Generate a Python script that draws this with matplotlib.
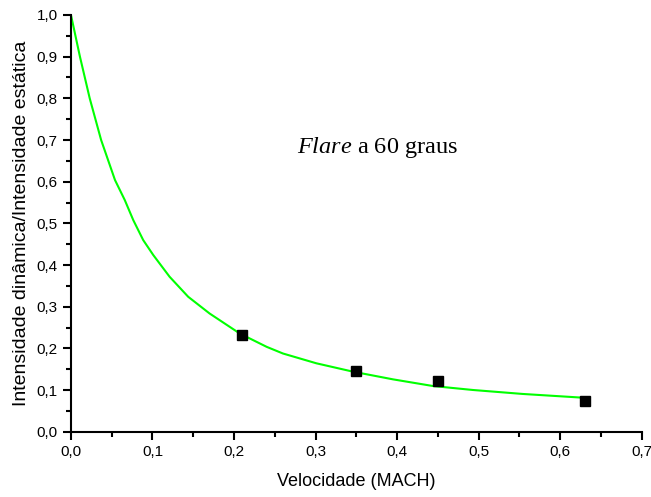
import matplotlib
matplotlib.use("Agg")
from matplotlib import pyplot as plt
from matplotlib.ticker import MultipleLocator, FuncFormatter

# pontos medidos (quadrados pretos)
mach = [0.21, 0.35, 0.45, 0.63]
razao = [0.232, 0.146, 0.121, 0.075]

# curva de ajuste
curva_x = [0.0, 0.011, 0.023, 0.037, 0.054, 0.066, 0.0764, 0.0886, 0.101, 0.121,
           0.1438, 0.170, 0.207, 0.240, 0.260, 0.301, 0.346, 0.395, 0.444, 0.493,
           0.554, 0.628]
curva_y = [1.0, 0.9, 0.8, 0.7, 0.604, 0.556, 0.508, 0.460, 0.424, 0.372,
           0.324, 0.284, 0.236, 0.204, 0.188, 0.1645, 0.1444, 0.126, 0.110, 0.1005,
           0.091, 0.082]

plt.rcParams["font.family"] = ["Liberation Sans", "DejaVu Sans"]
plt.rcParams["mathtext.fontset"] = "custom"
plt.rcParams["mathtext.it"] = "Liberation Serif:italic"
plt.rcParams["mathtext.rm"] = "Liberation Serif"

fig = plt.figure(figsize=(6.51, 4.97), dpi=100)
ax = fig.add_axes([0.109, 0.131, 0.8767, 0.839])

ax.plot(curva_x, curva_y, color="#00ff00", lw=1.5, zorder=2)
ax.plot(mach, razao, "s", color="black", ms=7, zorder=3)

ax.set_xlim(0, 0.7)
ax.set_ylim(0, 1.0)
ax.xaxis.set_major_locator(MultipleLocator(0.1))
ax.xaxis.set_minor_locator(MultipleLocator(0.05))
ax.yaxis.set_major_locator(MultipleLocator(0.1))
ax.yaxis.set_minor_locator(MultipleLocator(0.05))
virgula = FuncFormatter(lambda v, p: f"{v:.1f}".replace(".", ","))
ax.xaxis.set_major_formatter(virgula)
ax.yaxis.set_major_formatter(virgula)

for s in ["top", "right"]:
    ax.spines[s].set_visible(False)
for s in ["left", "bottom"]:
    ax.spines[s].set_linewidth(1.5)
ax.tick_params(which="major", direction="out", length=6, width=1.5, labelsize=11)
ax.tick_params(which="minor", direction="out", length=3.5, width=1.5)

ax.set_xlabel("Velocidade (MACH)", fontsize=13, labelpad=10)
ax.set_ylabel("Intensidade dinâmica/Intensidade estática", fontsize=14, labelpad=5)

ax.text(0.277, 0.683, r"$\mathit{Flare}$ a 60 graus", fontsize=17.5,
        family="Liberation Serif", va="center", ha="left")

fig.savefig("out.png", dpi=100)
